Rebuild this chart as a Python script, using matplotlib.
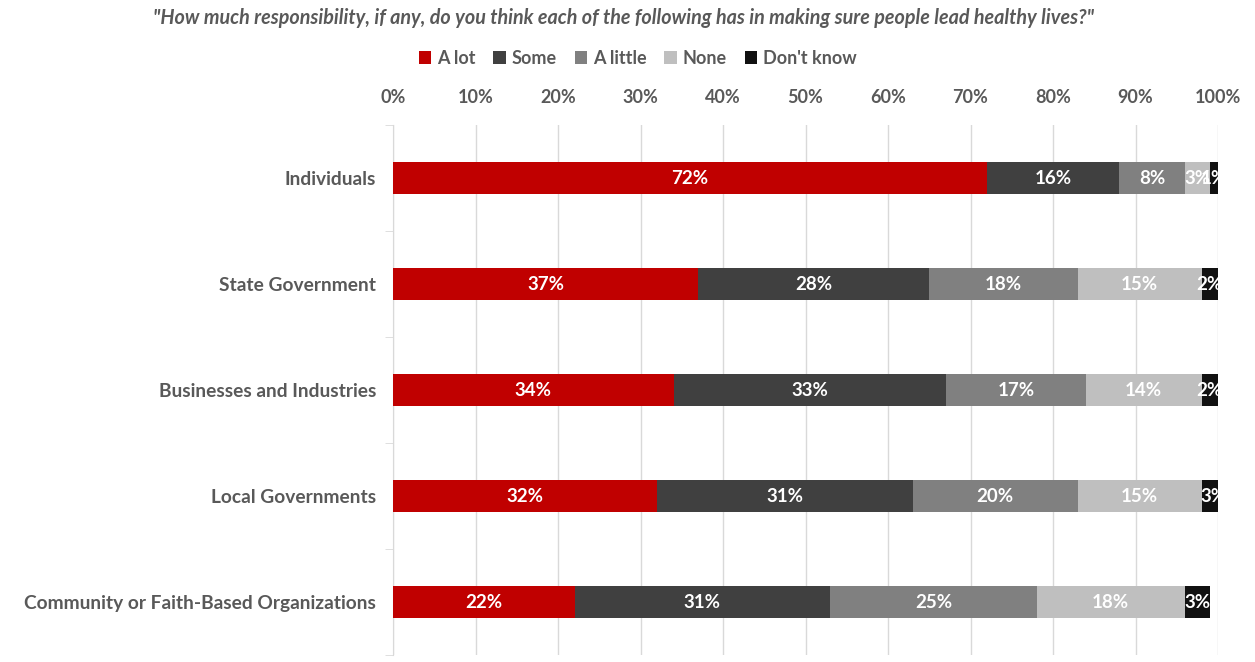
import numpy as np
import matplotlib.pyplot as plt

plt.rcParams['font.family'] = ['Lato', 'DejaVu Sans']

# survey results, % of respondents
groups = ['Individuals', 'State Government', 'Businesses and Industries',
          'Local Governments', 'Community or Faith-Based Organizations']
answers = ['A lot', 'Some', 'A little', 'None', "Don't know"]
a_lot = [72, 37, 34, 32, 22]
some = [16, 28, 33, 31, 31]
a_little = [8, 18, 17, 20, 25]
none = [3, 15, 14, 15, 18]
dont_know = [1, 2, 2, 3, 3]

colors = ['#C00000', '#404040', '#808080', '#BFBFBF', '#111111']
txt = '#595959'

fig = plt.figure(figsize=(12.55, 6.62), dpi=100)
ax = fig.add_axes([393/1255, 1 - 655/662, 825/1255, 530/662])

y = np.arange(len(groups))
left = np.zeros(len(groups))
for name, vals, c in zip(answers, [a_lot, some, a_little, none, dont_know], colors):
    vals = np.array(vals, dtype=float)
    bars = ax.barh(y, vals, left=left, height=0.31, color=c, label=name, zorder=3)
    for b, v in zip(bars, vals):
        ax.text(b.get_x() + b.get_width() / 2, b.get_y() + b.get_height() / 2,
                f'{v:.0f}%', ha='center', va='center', color='white',
                fontsize=13.5, fontweight='bold', zorder=4, clip_on=False)
    left += vals

ax.set_xlim(0, 100)
ax.set_ylim(len(groups) - 0.5, -0.5)
ax.set_xticks(np.arange(0, 101, 10))
ax.set_xticklabels([f'{t}%' for t in range(0, 101, 10)])
ax.xaxis.tick_top()
ax.tick_params(axis='x', length=0, pad=14, labelsize=13, labelcolor=txt)
for lab in ax.get_xticklabels():
    lab.set_fontweight('bold')
ax.grid(axis='x', color='#D9D9D9', linewidth=1, zorder=0)

ax.set_yticks(y)
ax.set_yticklabels(groups, fontsize=13.8, fontweight='bold', color=txt)
ax.tick_params(axis='y', length=0, pad=12)
ax.set_yticks(np.arange(-0.5, len(groups) + 0.5, 1), minor=True)
ax.tick_params(axis='y', which='minor', length=6, color='#D9D9D9')

for s in ['top', 'right', 'bottom']:
    ax.spines[s].set_visible(False)
ax.spines['left'].set_color('#D9D9D9')

fig.text(0.497, 1 - 18/662,
         '"How much responsibility, if any, do you think each of the following has in making sure people lead healthy lives?"',
         ha='center', va='center', fontsize=14.2, fontstyle='italic',
         fontweight='bold', color=txt)

fig.legend(loc='center', bbox_to_anchor=(0.508, 1 - 58/662), ncol=5,
           frameon=False, handlelength=0.7, handleheight=0.7,
           handletextpad=0.3, columnspacing=1.0,
           prop={'size': 13, 'weight': 'bold'}, labelcolor=txt)

fig.savefig('out.png', dpi=100)
